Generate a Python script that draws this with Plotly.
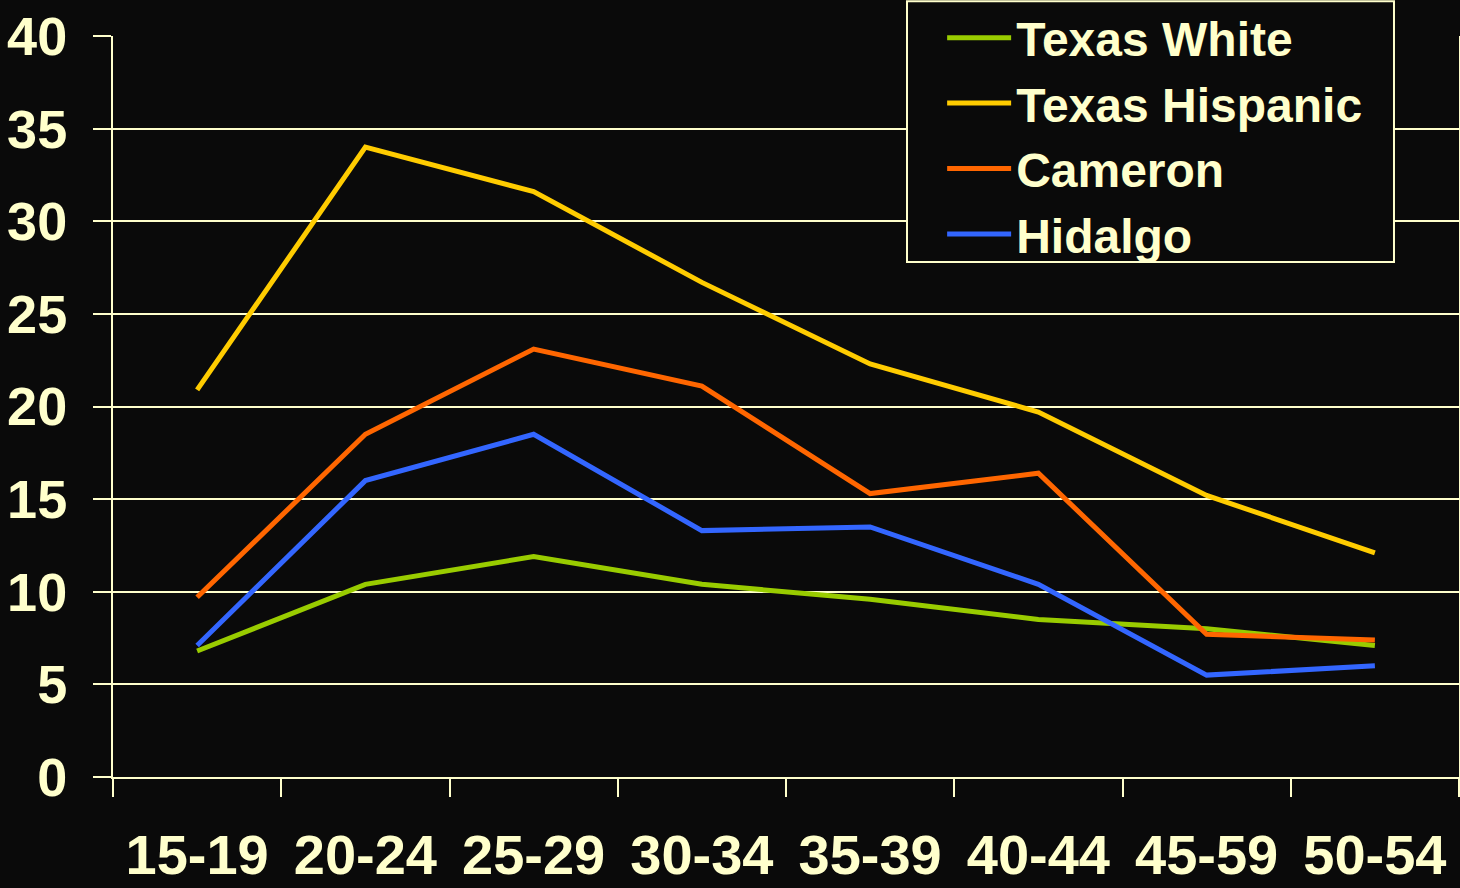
import plotly.graph_objects as go

categories = ["15-19", "20-24", "25-29", "30-34", "35-39", "40-44", "45-59", "50-54"]
texas_white = [6.8, 10.4, 11.9, 10.4, 9.6, 8.5, 8.0, 7.1]
texas_hispanic = [20.9, 34.0, 31.6, 26.7, 22.3, 19.7, 15.2, 12.1]
cameron = [9.7, 18.5, 23.1, 21.1, 15.3, 16.4, 7.7, 7.4]
hidalgo = [7.1, 16.0, 18.5, 13.3, 13.5, 10.4, 5.5, 6.0]
y_ticks = [0, 5, 10, 15, 20, 25, 30, 35, 40]

series = [
    ("Texas White", texas_white, "#99CC00"),
    ("Texas Hispanic", texas_hispanic, "#FFCC00"),
    ("Cameron", cameron, "#FF6600"),
    ("Hidalgo", hidalgo, "#3366FF"),
]

CREAM = "#FFFFCC"
BG = "#0A0A0A"
FONT = "Liberation Sans, Arial, sans-serif"

fig = go.Figure()
for name, vals, color in series:
    fig.add_trace(go.Scatter(x=categories, y=vals, name=name, mode="lines",
                             line=dict(color=color, width=5)))

# legend frame (opaque box behind the legend)
fig.add_shape(type="rect", xref="paper", yref="paper",
              x0=0.5899, x1=0.9517, y0=0.695, y1=1.047,
              fillcolor=BG, line=dict(color=CREAM, width=2), layer="above")

fig.update_layout(
    width=1460, height=888,
    paper_bgcolor=BG, plot_bgcolor=BG,
    margin=dict(l=113, r=1, t=36, b=111, autoexpand=False),
    font=dict(family=FONT, color=CREAM, size=48, weight="bold"),
    showlegend=True,
    legend=dict(
        x=0.616, y=1.0096, xref="paper", yref="container",
        xanchor="left", yanchor="top",
        bgcolor="rgba(0,0,0,0)", borderwidth=0,
        font=dict(family=FONT, size=48, color=CREAM, weight="bold"),
        itemwidth=64,
    ),
)
fig.update_xaxes(
    type="category", range=[-0.5, 7.5], automargin=False,
    tickson="boundaries", ticks="outside", ticklen=18, tickwidth=2, tickcolor=CREAM,
    showline=True, linecolor=CREAM, linewidth=2,
    showgrid=False, zeroline=False,
    tickfont=dict(family=FONT, size=56, color=CREAM, weight="bold"),
    ticklabelstandoff=28,
)
fig.update_yaxes(
    range=[0, 40], tickvals=y_ticks, automargin=False,
    ticks="outside", ticklen=18, tickwidth=2, tickcolor=CREAM,
    showline=True, linecolor=CREAM, linewidth=2, mirror=True,
    showgrid=True, gridcolor=CREAM, gridwidth=2, zeroline=False,
    tickfont=dict(family=FONT, size=54, color=CREAM, weight="bold"),
    ticklabelstandoff=15,
)

fig.write_html("out.html", config={"displayModeBar": False},
               post_script="document.body.style.margin='0';document.body.style.overflow='hidden';")
